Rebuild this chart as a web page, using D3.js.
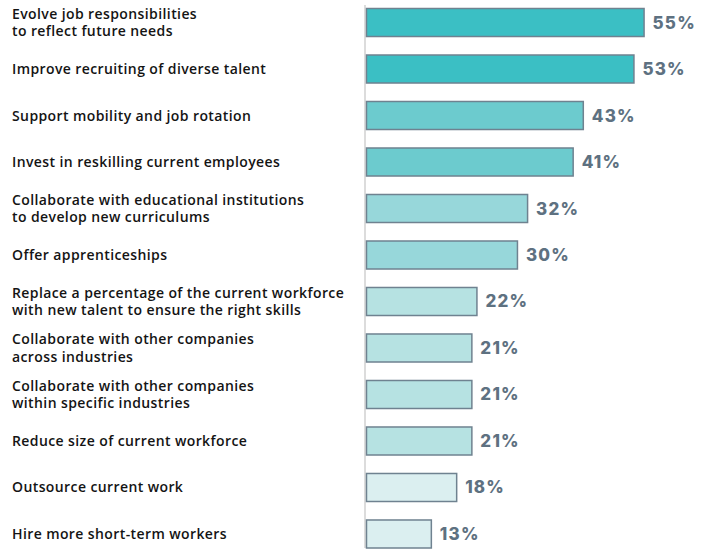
<!DOCTYPE html>
<html>
<head>
<meta charset="utf-8">
<script src="https://cdn.jsdelivr.net/npm/d3@7"></script>
<style>
  html, body { margin: 0; padding: 0; background: #ffffff; }
  svg { display: block; }
</style>
</head>
<body>
<svg id="chart" width="712" height="550"></svg>
<script>
// Workforce actions, share of respondents (%)
const categories = [
  "Evolve job responsibilities\nto reflect future needs",
  "Improve recruiting of diverse talent",
  "Support mobility and job rotation",
  "Invest in reskilling current employees",
  "Collaborate with educational institutions\nto develop new curriculums",
  "Offer apprenticeships",
  "Replace a percentage of the current workforce\nwith new talent to ensure the right skills",
  "Collaborate with other companies\nacross industries",
  "Collaborate with other companies\nwithin specific industries",
  "Reduce size of current workforce",
  "Outsource current work",
  "Hire more short-term workers"
];
const values = [55, 53, 43, 41, 32, 30, 22, 21, 21, 21, 18, 13];

// Fill shades, darker for higher shares
const tierThresholds = [50, 40, 30, 20];
const tierColors = ["#3bbfc4", "#6ccbce", "#97d7da", "#b6e2e2", "#dbeff0"];

const svg = d3.select("#chart");

const y = d3.scaleBand()
  .domain(categories)
  .range([8, 548.5])
  .paddingInner(0.376)
  .paddingOuter(0);

const x = d3.scaleLinear()
  .domain([0, 100])
  .range([366, 872.5]);

const colorFor = v => {
  const i = tierThresholds.findIndex(t => v >= t);
  return tierColors[i === -1 ? tierColors.length - 1 : i];
};

const rows = categories.map((c, i) => ({ label: c, value: values[i] }));

// Baseline
svg.append("line")
  .attr("x1", x(0) - 1).attr("x2", x(0) - 1)
  .attr("y1", 5).attr("y2", 548)
  .attr("stroke", "#d4d4d4")
  .attr("stroke-width", 1.6);

// Bars
svg.append("g").selectAll("rect")
  .data(rows)
  .join("rect")
  .attr("x", x(0) + 0.5)
  .attr("y", d => y(d.label) + 0.5)
  .attr("width", d => x(d.value) - x(0) - 1)
  .attr("height", y.bandwidth() - 1)
  .attr("fill", d => colorFor(d.value))
  .attr("stroke", "#6f8290")
  .attr("stroke-width", 1.5);

// Value labels
svg.append("g").selectAll("text")
  .data(rows)
  .join("text")
  .attr("x", d => x(d.value) + 8)
  .attr("y", d => y(d.label) + y.bandwidth() / 2 + 6)
  .attr("fill", "#5e7181")
  .attr("font-family", "Inter, 'Open Sans', sans-serif")
  .attr("font-weight", 800)
  .attr("font-size", "17px")
  .attr("letter-spacing", "1.2px")
  .text(d => d.value + "%");

// Category labels
const lineGap = 17.5;
const labels = svg.append("g").selectAll("text")
  .data(rows)
  .join("text")
  .attr("fill", "#141414")
  .attr("font-family", "'Open Sans', sans-serif")
  .attr("font-weight", 600)
  .attr("font-size", "14px")
  .attr("letter-spacing", "0.4px")
  .attr("transform", d => {
    const n = d.label.split("\n").length;
    const cy = y(d.label) + y.bandwidth() / 2;
    return `translate(12,${cy + 5 - (n - 1) * lineGap / 2})`;
  });

labels.selectAll("tspan")
  .data(d => d.label.split("\n"))
  .join("tspan")
  .attr("x", 0)
  .attr("dy", (d, i) => i === 0 ? 0 : lineGap)
  .text(d => d);
</script>
</body>
</html>
